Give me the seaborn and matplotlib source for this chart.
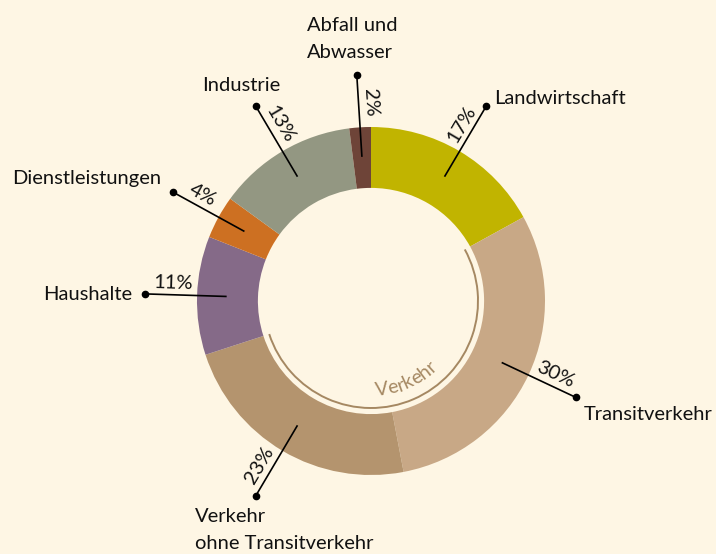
import numpy as np
import matplotlib
matplotlib.use("Agg")
import matplotlib.pyplot as plt
import seaborn as sns
from matplotlib.patches import Arc
from matplotlib.font_manager import FontProperties

# ---- data ----
categories = ["Landwirtschaft", "Transitverkehr", "Verkehr\nohne Transitverkehr",
              "Haushalte", "Dienstleistungen", "Industrie", "Abfall und\nAbwasser"]
values = [17, 30, 23, 11, 4, 13, 2]
pct_labels = ["17%", "30%", "23%", "11%", "4%", "13%", "2%"]
colors = ["#c1b400", "#c8a886", "#b4946e", "#856a88", "#cd7022", "#939782", "#6e4438"]
group_label = "Verkehr"
group_members = [1, 2]

BG = "#fef6e4"
sns.set_theme(style="white")
plt.rcParams["font.family"] = ["Lato", "DejaVu Sans"]

W, H = 716, 554
fig = plt.figure(figsize=(W / 100, H / 100), dpi=100, facecolor=BG)
ax = fig.add_axes([0, 0, 1, 1])
ax.set_facecolor(BG)
R = 174.0
CX, CY = 371, 301


def px(x, y):
    return (x - CX) / R, (CY - y) / R


ax.pie(values, colors=colors, startangle=90, counterclock=False, radius=1.0,
       wedgeprops=dict(width=0.35, linewidth=0), center=(0, 0))
ax.set_xlim(-CX / R, (W - CX) / R)
ax.set_ylim(-(H - CY) / R, CY / R)
ax.set_aspect("equal")
ax.axis("off")

total = float(sum(values))
cum = np.concatenate([[0], np.cumsum(values)]) / total * 360.0

FS = 14.5
# leader lines, dots, percentage labels
r_in, r_dot, r_txt = 0.83, 1.30, 1.14
for i, v in enumerate(values):
    th = np.deg2rad((cum[i] + cum[i + 1]) / 2)  # clockwise from top
    d = np.array([np.sin(th), np.cos(th)])
    p0, p1 = d * r_in, d * r_dot
    ax.plot([p0[0], p1[0]], [p0[1], p1[1]], color="black", lw=1.2, solid_capstyle="butt")
    ax.plot(p1[0], p1[1], "o", color="black", ms=4.5)
    ang = np.degrees(np.arctan2(d[1], d[0]))
    if ang > 90:
        ang -= 180
    elif ang < -90:
        ang += 180
    a = np.deg2rad(ang)
    nrm = np.array([-np.sin(a), np.cos(a)])
    pt = d * r_txt + nrm * 0.02
    ax.text(pt[0], pt[1], pct_labels[i], rotation=ang, rotation_mode="anchor",
            ha="center", va="bottom", fontsize=FS, color="#111111")

# category labels
label_pos = [
    (px(494, 99), "left", "center"),
    (px(584, 415), "left", "center"),
    (px(195, 508), "left", "top"),
    (px(132, 295), "right", "center"),
    (px(161, 179), "right", "center"),
    (px(241, 86), "center", "center"),
    (px(307, 39), "left", "center"),
]
for (pos, ha, va), lab in zip(label_pos, categories):
    ax.text(pos[0], pos[1], lab, ha=ha, va=va, fontsize=FS, color="#111111",
            linespacing=1.68, multialignment="left")

# group arc
ARC_C = "#a58862"
start = cum[group_members[0]]
end = cum[group_members[-1] + 1]
r_arc = 107 / R
ax.add_patch(Arc((0, 0), 2 * r_arc, 2 * r_arc, theta1=90 - end, theta2=90 - start,
                 color=ARC_C, lw=1.4))

# curved group text
fp = FontProperties(family=["Lato", "DejaVu Sans"], size=14)
renderer = fig.canvas.get_renderer()


def wpx(s):
    w, h, d = renderer.get_text_width_height_descent(s, fp, ismath=False)
    return w


r_t = 0.545
total_w = wpx(group_label)
center_ang = 156.0
span = np.degrees(total_w / (r_t * R))
ang0 = center_ang + span / 2
for k, ch in enumerate(group_label):
    off = wpx(group_label[:k]) + wpx(ch) / 2
    th = ang0 - np.degrees(off / (r_t * R))
    t = np.deg2rad(th)
    x, y = r_t * np.sin(t), r_t * np.cos(t)
    ax.text(x, y, ch, rotation=180 - th, rotation_mode="anchor", ha="center",
            va="baseline", fontproperties=fp, color=ARC_C)

fig.savefig("out.png", dpi=100, facecolor=BG)
